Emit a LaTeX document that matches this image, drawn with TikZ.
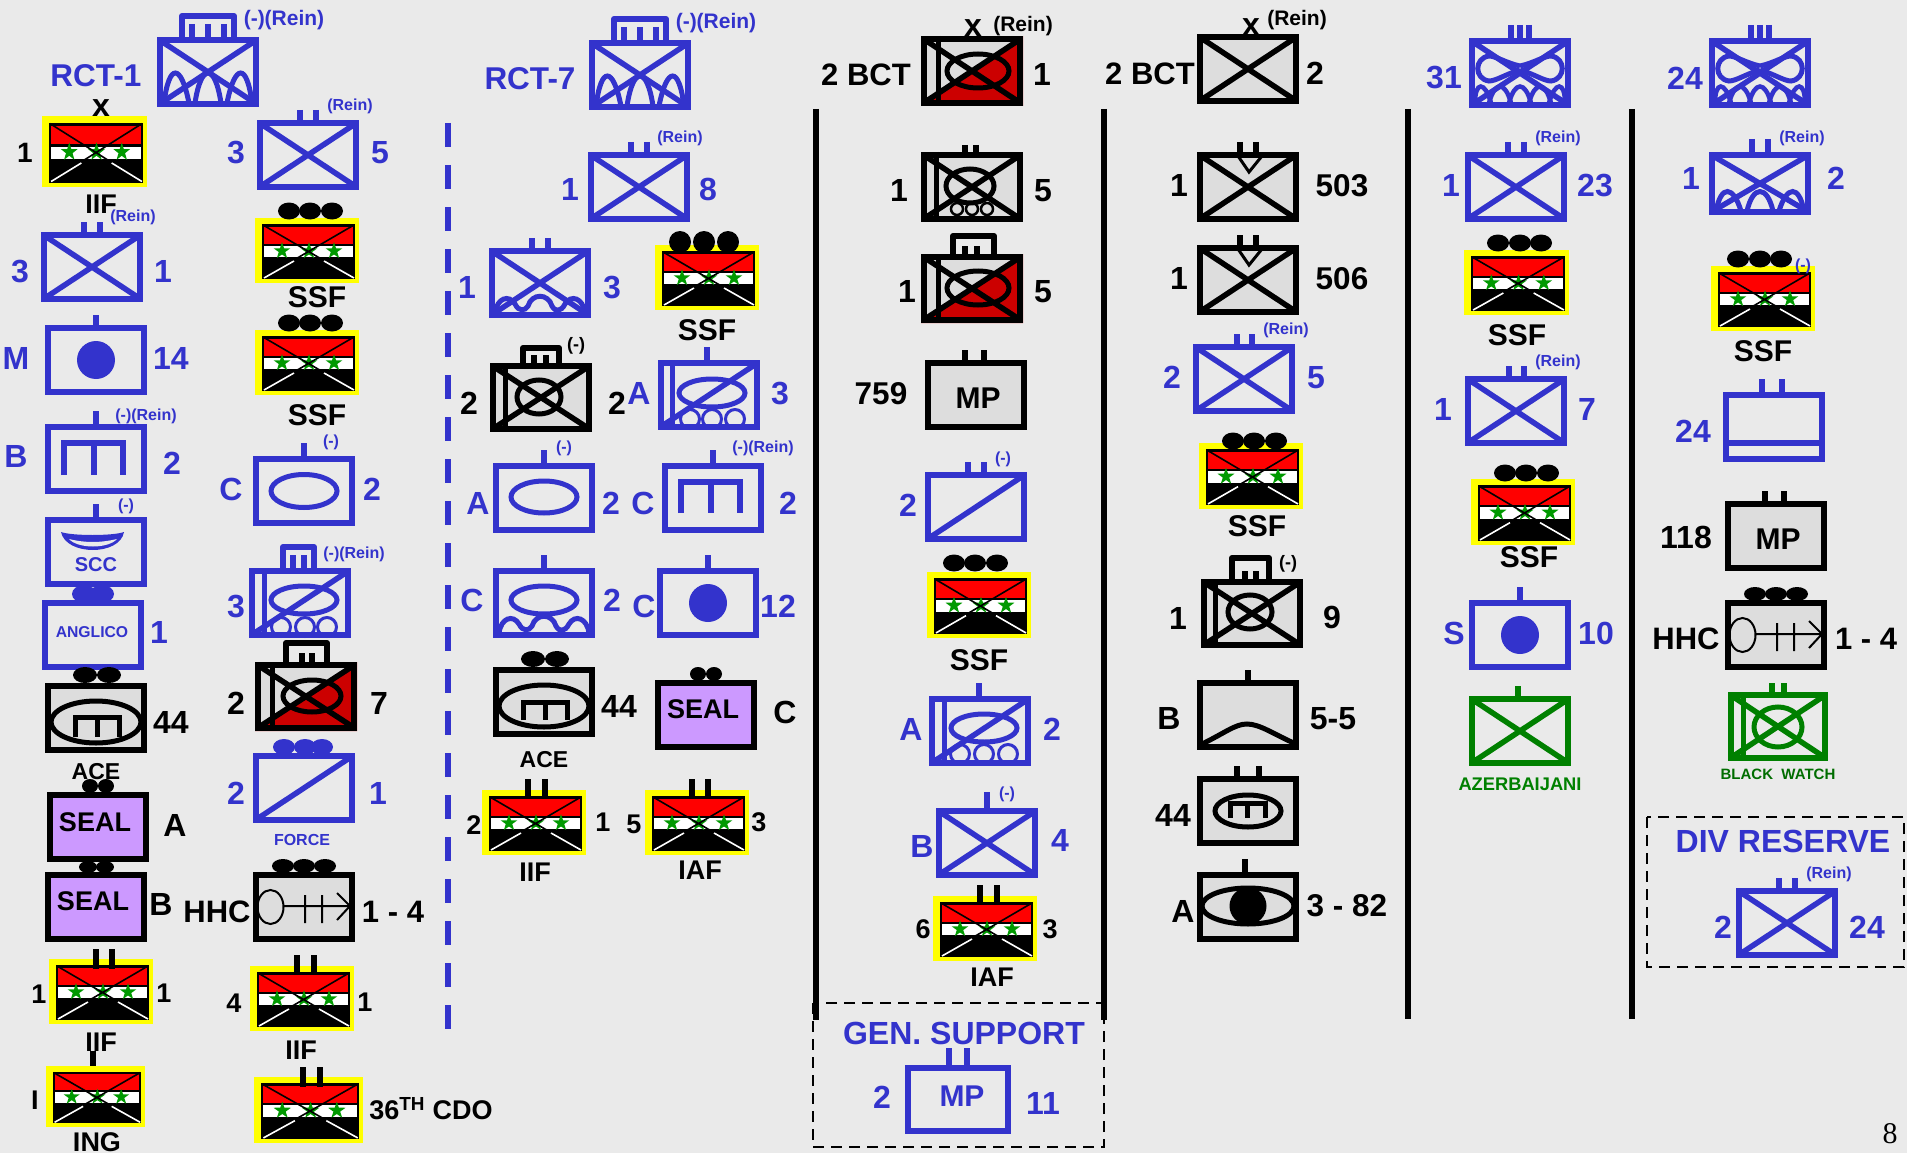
\documentclass[tikz,border=0pt]{standalone}
\usepackage{fontspec}
\setmainfont{Liberation Sans}
\newfontfamily\serifnum{Liberation Serif}
\definecolor{bgc}{HTML}{EAEAEA}
\definecolor{bl}{HTML}{3333CC}
\definecolor{gr}{HTML}{008000}
\definecolor{gy}{HTML}{DDDDDD}
\definecolor{rd}{HTML}{FF0000}
\definecolor{mrd}{HTML}{CC0000}
\definecolor{pu}{HTML}{CC99FF}
\definecolor{ye}{HTML}{FFFF00}
\definecolor{sg}{HTML}{009900}
\newcount\tc
\tikzset{
 lbl/.style={anchor=base,inner sep=0pt,outer sep=0pt},
 frm/.style={draw=sc,line width=6pt,line join=miter},
 ln/.style={draw=sc,line width=5.5pt},
 thin5/.style={draw=sc,line width=5pt},
 tick/.style={draw=sc,line width=6pt},
}
% text: x, y (centre of capitals), colour, size, text
\newcommand\T[5]{\global\advance\tc by 1\relax
 \node[lbl,text=#3,font={\fontsize{#4}{#4}\selectfont\bfseries},name=t\the\tc] at ({#1},{#2+0.358*#4}) {#5};}
% symbol: x y w h line fill body
\newcommand\Sym[7]{\begin{scope}
 \colorlet{sc}{#5}\def\xa{#1}\def\ya{#2}
 \pgfmathsetmacro\xb{#1+#3}\pgfmathsetmacro\yb{#2+#4}
 \fill[#6] (\xa,\ya) rectangle (\xb,\yb);
 #7
 \draw[frm] ({\xa+3},{\ya+3}) rectangle ({\xb-3},{\yb-3});
 \end{scope}}
\newcommand\Tk[2]{\draw[tick] (#1,#2) -- (#1,{\ya+1});}
\newcommand\Xx{\draw[ln] ({\xa+4},{\ya+4}) -- ({\xb-4},{\yb-4}) ({\xa+4},{\yb-4}) -- ({\xb-4},{\ya+4});}
\newcommand\Sl{\draw[ln] ({\xa+4},{\yb-4}) -- ({\xb-4},{\ya+4});}
\newcommand\Brk[3]{\draw[sc,line width=6pt,line join=round] ({#1+3},\ya) -- ({#1+3},{#3+3}) -- ({#2-3},{#3+3}) -- ({#2-3},\ya);}
\newcommand\Ell[4]{\draw[thin5] (#1,#2) ellipse ({#3} and {#4});}
\newcommand\LB[1]{\draw[thin5] (#1,\ya) -- (#1,\yb);}
\newcommand\Eng[5]{\draw[sc,line width=#5pt,line join=miter] (#1,#4) -- (#1,#3) -- (#2,#3) -- (#2,#4) ({(#1+#2)/2},#3) -- ({(#1+#2)/2},#4);}
\newcommand\Wheels[4]{\foreach \q in {#1,#2,#3} \draw[sc,line width=3pt] (\q,#4) circle (9.5);}
\newcommand\Wave{\draw[sc,line width=5pt,shift={(\xa,\ya)}] (6,65) .. controls (8,50) and (20,46) .. (26,56) .. controls (30,64) and (36,63) .. (39,58) .. controls (43,45) and (59,45) .. (63,58) .. controls (66,64) and (72,64) .. (76,56) .. controls (82,46) and (94,50) .. (96,65);}
\newcommand\Mtn[1]{\begin{scope}[shift={(\xa,\yb)}]\draw[sc,line width=5pt]
 (7,-4) .. controls (12,-#1) and (24,-#1) .. (32,-4)
 (38,-4) .. controls (44,-#1) and (58,-#1) .. (64,-4)
 (70,-4) .. controls (78,-#1) and (90,-#1) .. (95,-4);\end{scope}}
\newcommand\Wings{\begin{scope}[shift={(\xa,\ya)}]\draw[sc,line width=5pt]
 (51,28) .. controls (65,25) and (75,18) .. (82,18) .. controls (97,20) and (97,41) .. (82,43) .. controls (75,43) and (65,36) .. (51,32)
 (51,28) .. controls (37,25) and (27,18) .. (20,18) .. controls (5,20) and (5,41) .. (20,43) .. controls (27,43) and (37,36) .. (51,32);
 \foreach \q in {11,31,51,71,91}{\draw[sc,line width=4.5pt] ({max(\q-11,6)},65) .. controls ({\q-5},43) and ({\q+5},43) .. ({min(\q+11,96)},65);}
 \end{scope}}
\newcommand\Hhc{\begin{scope}[shift={(\xa,\ya)}]\draw[black,line width=2pt]
 (17.5,35) ellipse (13 and 17) (30,34) -- (97,34) (52,23) -- (52,51) (69,23) -- (69,51) (84,21) -- (97,34) -- (84,48);\end{scope}}
\newcommand\RedTri{\fill[mrd] (\xb,\ya) -- (\xb,\yb) -- (\xa,\yb) -- cycle;}
\newcommand\Dt[5]{\foreach \q in {#2} \fill[#1] (\q,#3) ellipse ({#4} and {#5});}
\newcommand\Stp[2]{\fill[sg] ([shift={(90:8.8pt)}]#1,#2) -- ([shift={(126:3.4pt)}]#1,#2) -- ([shift={(162:8.8pt)}]#1,#2) -- ([shift={(198:3.4pt)}]#1,#2) -- ([shift={(234:8.8pt)}]#1,#2) -- ([shift={(270:3.4pt)}]#1,#2) -- ([shift={(306:8.8pt)}]#1,#2) -- ([shift={(342:3.4pt)}]#1,#2) -- ([shift={(18:8.8pt)}]#1,#2) -- ([shift={(54:3.4pt)}]#1,#2) -- cycle;}
% flag: x y w h
\newcommand\Flag[4]{\begin{scope}[shift={(#1,#2)},xscale={#3/104},yscale={#4/65}]
 \fill[ye] (0,0) rectangle (104,65);
 \fill[black] (7,6) rectangle (100,61);
 \fill[rd] (9,9) rectangle (98,26);
 \fill[white] (9,28) rectangle (98,39);
 \Stp{27}{33}\Stp{54}{33}\Stp{79}{33}
 \draw[black,line width=1.6pt] (8,7) -- (99,60) (99,7) -- (8,60);
 \draw[white,line width=1.6pt] (9,60) -- (39,43) (99,60) -- (69,43);
 \end{scope}}
\newcommand\FT[2]{\draw[black,line width=6pt] (#1,#2) -- (#1,{#2+20});}
\begin{document}
\begin{tikzpicture}[x=1pt,y=-1pt]
\useasboundingbox (0,0) rectangle (1907,1153);
\fill[bgc] (0,0) rectangle (1907,1153);
%% separators
\draw[bl,line width=6pt,dash pattern=on 24pt off 18pt] (448,123) -- (448,1029);
\draw[black,line width=6pt] (816,109) -- (816,1020);
\draw[black,line width=6pt] (1104,109) -- (1104,1020);
\draw[black,line width=6pt] (1408,109) -- (1408,1019);
\draw[black,line width=6pt] (1632,109) -- (1632,1019);
\draw[black,line width=2.5pt,dash pattern=on 11pt off 7pt] (813,1003) rectangle (1104,1147);
\draw[black,line width=2.5pt,dash pattern=on 11pt off 7pt] (1647,817) rectangle (1904,967);
%% ---------- column 1
\Sym{157}{37}{102}{70}{bl}{bgc}{\Brk{179}{237}{13}\Tk{192}{24}\Tk{208}{24}\Tk{224}{24}\Xx\Mtn{44}}
\T{284}{18}{bl}{21}{(-)(Rein)}
\T{96}{75}{bl}{31.5}{RCT-1}
\T{101}{105}{black}{32}{x}
\Flag{42}{116}{105}{71}
\T{25}{152}{black}{28}{1}
\T{101}{204}{black}{27}{IIF}
\Sym{41}{232}{102}{70}{bl}{bgc}{\Tk{84}{222}\Tk{100}{222}\Xx}
\T{133}{216}{bl}{16}{(Rein)}
\T{20}{271}{bl}{32}{3}\T{163}{271}{bl}{32}{1}
\Sym{45}{325}{102}{70}{bl}{bgc}{\Tk{96}{315}\fill[bl] (96,360) circle (19);}
\T{16}{358}{bl}{32}{M}\T{171}{358}{bl}{32}{14}
\Sym{45}{424}{102}{70}{bl}{bgc}{\Tk{96}{411}\Eng{64}{123}{443}{475}{6}}
\T{146}{415}{bl}{16}{(-)(Rein)}
\T{16}{456}{bl}{32}{B}\T{172}{463}{bl}{32}{2}
\Sym{45}{517}{102}{70}{bl}{bgc}{\Tk{96}{504}
 \fill[bl] (61,532) .. controls (72,536) and (113,536) .. (124,532) .. controls (120,556) and (66,556) .. (61,532) -- cycle;
 \fill[bgc] (69,539) .. controls (85,543) and (100,543) .. (117,539) .. controls (108,549) and (78,549) .. (69,539) -- cycle;}
\T{126}{505}{bl}{16}{(-)}
\T{96}{564}{bl}{20}{SCC}
\Dt{bl}{84,102}{594}{12}{9}
\Sym{42}{600}{102}{70}{bl}{bgc}{}
\T{92}{632}{bl}{15.7}{ANGLICO}
\T{159}{632}{bl}{32}{1}
\Dt{black}{85,109}{675}{12}{8}
\Sym{45}{683}{102}{70}{black}{gy}{\Ell{96}{722}{45}{21}\Eng{75}{119}{717}{737}{5}}
\T{171}{722}{black}{32}{44}
\T{96}{771}{black}{23}{ACE}
\Dt{black}{90,106}{786}{8}{7}
\Sym{47}{792}{102}{70}{black}{pu}{}
\T{95}{822}{black}{27}{SEAL}
\T{175}{825}{black}{32}{A}
\Dt{black}{88,105}{867}{9}{6}
\Sym{45}{872}{102}{70}{black}{pu}{}
\T{93}{901}{black}{27}{SEAL}
\T{161}{904}{black}{32}{B}
\Flag{49}{959}{104}{65}\FT{96}{949}\FT{112}{949}
\T{39}{994}{black}{27}{1}\T{164}{993}{black}{27}{1}
\T{101}{1042}{black}{27}{IIF}
\FT{93}{1051}
\Flag{46}{1066}{99}{61}
\T{35}{1100}{black}{27}{I}
\T{97}{1142}{black}{27}{ING}
%% ---------- column 2
\Sym{257}{120}{102}{70}{bl}{bgc}{\Tk{300}{110}\Tk{316}{110}\Xx}
\T{350}{105}{bl}{16}{(Rein)}
\T{236}{152}{bl}{32}{3}\T{380}{152}{bl}{32}{5}
\Flag{255}{218}{104}{65}\Dt{black}{289,310,332}{211}{11}{8.5}
\T{317}{297}{black}{30}{SSF}
\Flag{255}{330}{104}{65}\Dt{black}{289,310,332}{323}{11}{8.5}
\T{317}{415}{black}{30}{SSF}
\Sym{253}{456}{102}{70}{bl}{bgc}{\Tk{304}{443}\Ell{304}{491}{33}{16.5}}
\T{331}{441}{bl}{16}{(-)}
\T{231}{489}{bl}{32}{C}\T{372}{489}{bl}{32}{2}
\Sym{249}{568}{102}{70}{bl}{bgc}{\Brk{280}{317}{544}\Tk{293}{555}\Tk{304}{555}\LB{264}\Ell{304}{600}{33}{14}\Wheels{281}{305}{327}{627}\Sl}
\T{354}{553}{bl}{16}{(-)(Rein)}
\T{236}{606}{bl}{32}{3}
\Sym{255}{662}{102}{69}{black}{gy}{\RedTri\Brk{283}{330}{640}\Tk{302}{653}\Tk{312}{653}\LB{272}\Ell{312}{696}{29}{16}\Xx}
\T{236}{703}{black}{32}{2}\T{379}{703}{black}{32}{7}
\Dt{bl}{284,305,322}{747}{11}{8}
\Sym{253}{753}{102}{70}{bl}{bgc}{\Sl}
\T{236}{793}{bl}{32}{2}\T{378}{793}{bl}{32}{1}
\T{302}{840}{bl}{16}{FORCE}
\Dt{black}{283,304,325}{866}{11}{7}
\Sym{253}{872}{102}{70}{black}{gy}{\Hhc}
\T{217}{911}{black}{31}{HHC}\T{393}{911}{black}{31}{1 - 4}
\Flag{250}{966}{104}{65}\FT{297}{955}\FT{314}{955}
\T{234}{1003}{black}{27}{4}\T{365}{1002}{black}{27}{1}
\T{301}{1050}{black}{27}{IIF}
\Flag{254}{1077}{109}{66}\FT{303}{1067}\FT{320}{1067}
\T{431}{1110}{black}{27}{36\textsuperscript{TH} CDO}
%% ---------- column 3
\T{530}{78}{bl}{31.5}{RCT-7}
\Sym{589}{40}{102}{70}{bl}{bgc}{\Brk{611}{669}{16}\Tk{624}{27}\Tk{640}{27}\Tk{656}{27}\Xx\Mtn{44}}
\T{716}{21}{bl}{21}{(-)(Rein)}
\Sym{588}{152}{102}{70}{bl}{bgc}{\Tk{631}{142}\Tk{647}{142}\Xx}
\T{680}{137}{bl}{16}{(Rein)}
\T{570}{189}{bl}{32}{1}\T{708}{189}{bl}{32}{8}
\Sym{489}{248}{102}{70}{bl}{bgc}{\Tk{532}{238}\Tk{548}{238}\Xx\Wave}
\T{467}{287}{bl}{32}{1}\T{612}{287}{bl}{32}{3}
\Flag{655}{245}{104}{65}\Dt{black}{680,704,728}{242}{11}{11}
\T{707}{330}{black}{30}{SSF}
\Sym{490}{363}{102}{69}{black}{gy}{\Brk{520}{562}{345}\Tk{534}{355}\Tk{546}{355}\LB{505}\Ell{539}{397}{22}{17}\Xx}
\T{576}{344}{black}{18}{(-)}
\T{469}{403}{black}{32}{2}\T{617}{403}{black}{32}{2}
\Sym{658}{360}{102}{70}{bl}{bgc}{\Tk{707}{347}\LB{672}\Ell{712}{393}{33}{14}\Wheels{690}{712}{735}{419}\Sl}
\T{639}{393}{bl}{32}{A}\T{780}{393}{bl}{32}{3}
\Sym{493}{463}{102}{70}{bl}{bgc}{\Tk{544}{450}\Ell{544}{497}{33}{16}}
\T{564}{447}{bl}{16}{(-)}
\T{478}{503}{bl}{32}{A}\T{611}{503}{bl}{32}{2}
\Sym{662}{463}{102}{70}{bl}{bgc}{\Tk{713}{450}\Eng{681}{740}{482}{513}{6}}
\T{763}{447}{bl}{16}{(-)(Rein)}
\T{643}{503}{bl}{32}{C}\T{788}{503}{bl}{32}{2}
\Sym{493}{568}{102}{70}{bl}{bgc}{\Tk{544}{555}\Ell{544}{600}{33}{14}\Wave}
\T{472}{600}{bl}{32}{C}\T{612}{600}{bl}{32}{2}
\Sym{657}{568}{102}{70}{bl}{bgc}{\Tk{708}{555}\fill[bl] (708,603) circle (19);}
\T{644}{606}{bl}{32}{C}\T{778}{606}{bl}{32}{12}
\Dt{black}{533,557}{659}{12}{8}
\Sym{493}{667}{102}{70}{black}{gy}{\Ell{544}{706}{45}{21}\Eng{523}{567}{702}{720}{5}}
\T{619}{706}{black}{32}{44}
\T{544}{759}{black}{23}{ACE}
\Dt{black}{698,714}{674}{8}{7}
\Sym{655}{680}{102}{70}{black}{pu}{}
\T{703}{709}{black}{27}{SEAL}
\T{785}{712}{black}{32}{C}
\Flag{482}{790}{104}{65}\FT{528}{779}\FT{545}{779}
\T{474}{825}{black}{27}{2}\T{603}{822}{black}{27}{1}
\T{535}{872}{black}{27}{IIF}
\Flag{645}{790}{104}{65}\FT{692}{779}\FT{708}{779}
\T{634}{824}{black}{27}{5}\T{759}{822}{black}{27}{3}
\T{700}{870}{black}{27}{IAF}
%% ---------- column 4
\Sym{921}{36}{102}{70}{black}{gy}{\RedTri\LB{938}\Ell{978}{71}{31}{17}\Xx}
\T{973}{25}{black}{32}{x}
\T{1023}{24}{black}{21}{(Rein)}
\T{866}{74}{black}{31}{2 BCT}\T{1042}{74}{black}{32}{1}
\Sym{921}{152}{102}{70}{black}{gy}{\Tk{965}{145}\Tk{976}{145}\LB{936}\Ell{970}{186}{24}{17}\foreach \q in {957,972,987}{\draw[black,line width=2.5pt] (\q,209) circle (6);}\Xx}
\T{899}{190}{black}{32}{1}\T{1043}{190}{black}{32}{5}
\Sym{921}{254}{102}{69}{black}{gy}{\RedTri\Brk{950}{997}{233}\Tk{965}{246}\Tk{977}{246}\LB{938}\Ell{978}{288}{31}{17}\Xx}
\T{907}{291}{black}{32}{1}\T{1043}{291}{black}{32}{5}
\Sym{925}{360}{102}{70}{black}{gy}{\Tk{965}{350}\Tk{984}{350}}
\T{978}{398}{black}{30}{MP}
\T{881}{393}{black}{31.5}{759}
\Sym{925}{472}{102}{70}{bl}{bgc}{\Tk{968}{462}\Tk{984}{462}\Sl}
\T{1003}{458}{bl}{16}{(-)}
\T{908}{505}{bl}{32}{2}
\Flag{927}{572}{104}{66}\Dt{black}{954,975,997}{563}{11}{8.5}
\T{979}{660}{black}{30}{SSF}
\Sym{929}{696}{102}{70}{bl}{bgc}{\Tk{979}{683}\LB{944}\Ell{984}{728}{33}{14}\Wheels{960}{984}{1008}{754}\Sl}
\T{911}{729}{bl}{32}{A}\T{1052}{729}{bl}{32}{2}
\Sym{936}{808}{102}{70}{bl}{bgc}{\Tk{987}{792}\Xx}
\T{1007}{793}{bl}{16}{(-)}
\T{922}{846}{bl}{32}{B}\T{1060}{840}{bl}{32}{4}
\Flag{933}{896}{104}{65}\FT{980}{885}\FT{997}{885}
\T{923}{929}{black}{27}{6}\T{1050}{929}{black}{27}{3}
\T{992}{977}{black}{27}{IAF}
\T{964}{1033}{bl}{32}{GEN. SUPPORT}
\Sym{905}{1065}{106}{69}{bl}{bgc}{\Tk{949}{1048}\Tk{967}{1048}}
\T{962}{1096}{bl}{30}{MP}
\T{882}{1097}{bl}{32}{2}\T{1043}{1103}{bl}{32}{11}
%% ---------- column 5
\Sym{1197}{34}{102}{70}{black}{gy}{\Xx}
\T{1251}{24}{black}{32}{x}
\T{1297}{18}{black}{21}{(Rein)}
\T{1150}{73}{black}{31}{2 BCT}\T{1315}{73}{black}{32}{2}
\Sym{1197}{152}{102}{70}{black}{gy}{\Tk{1240}{142}\Tk{1256}{142}\Xx\draw[black,line width=3pt] (1238,156) -- (1249,172) -- (1262,156);}
\T{1179}{185}{black}{32}{1}\T{1342}{185}{black}{31.5}{503}
\Sym{1197}{245}{102}{70}{black}{gy}{\Tk{1240}{235}\Tk{1256}{235}\Xx\draw[black,line width=3pt] (1238,249) -- (1249,265) -- (1262,249);}
\T{1179}{278}{black}{32}{1}\T{1342}{278}{black}{31.5}{506}
\Sym{1193}{344}{102}{70}{bl}{bgc}{\Tk{1237}{334}\Tk{1252}{334}\Xx}
\T{1286}{329}{bl}{16}{(Rein)}
\T{1172}{377}{bl}{32}{2}\T{1316}{377}{bl}{32}{5}
\Flag{1199}{443}{104}{66}\Dt{black}{1233,1254,1276}{441}{11}{8.5}
\T{1257}{526}{black}{30}{SSF}
\Sym{1201}{579}{102}{69}{black}{gy}{\Brk{1229}{1272}{555}\Tk{1245}{571}\Tk{1256}{571}\LB{1215}\Ell{1250}{612}{22}{17}\Xx}
\T{1288}{562}{black}{18}{(-)}
\T{1178}{618}{black}{32}{1}\T{1332}{617}{black}{32}{9}
\Sym{1197}{680}{102}{70}{black}{gy}{\Tk{1248}{670}\draw[black,line width=5pt] (1200,745) .. controls (1225,733) and (1235,724) .. (1247,724) .. controls (1260,724) and (1275,735) .. (1296,744);}
\T{1169}{718}{black}{32}{B}\T{1333}{718}{black}{32}{5-5}
\Sym{1197}{776}{102}{70}{black}{gy}{\Tk{1237}{766}\Tk{1259}{766}\Ell{1248}{811}{33}{16}\Eng{1230}{1265}{803}{818}{5}}
\T{1173}{815}{black}{32}{44}
\Sym{1197}{872}{102}{70}{black}{gy}{\Tk{1245}{859}\Ell{1248}{906}{46}{18}\fill[black] (1248,906) circle (18.5);}
\T{1183}{911}{black}{32}{A}\T{1347}{905}{black}{31.5}{3 - 82}
%% ---------- column 6
\Sym{1469}{38}{102}{70}{bl}{bgc}{\Tk{1511}{25}\Tk{1520}{25}\Tk{1529}{25}\Xx\Wings}
\T{1444}{77}{bl}{32}{31}
\Sym{1465}{152}{102}{70}{bl}{bgc}{\Tk{1508}{142}\Tk{1524}{142}\Xx}
\T{1558}{137}{bl}{16}{(Rein)}
\T{1451}{185}{bl}{32}{1}\T{1595}{185}{bl}{32}{23}
\Flag{1464}{250}{105}{65}\Dt{black}{1498,1520,1541}{243}{11}{8.5}
\T{1517}{335}{black}{30}{SSF}
\Sym{1465}{376}{102}{70}{bl}{bgc}{\Tk{1509}{366}\Tk{1524}{366}\Xx}
\T{1558}{361}{bl}{16}{(Rein)}
\T{1443}{409}{bl}{32}{1}\T{1587}{409}{bl}{32}{7}
\Flag{1471}{479}{104}{66}\Dt{black}{1505,1526,1548}{473}{11}{8.5}
\T{1529}{557}{black}{30}{SSF}
\Sym{1469}{600}{102}{70}{bl}{bgc}{\Tk{1520}{587}\fill[bl] (1520,635) circle (19);}
\T{1454}{633}{bl}{32}{S}\T{1596}{633}{bl}{32}{10}
\Sym{1469}{696}{102}{70}{gr}{bgc}{\Tk{1518}{686}\Xx}
\T{1520}{784}{gr}{18.3}{AZERBAIJANI}
%% ---------- column 7
\Sym{1709}{38}{102}{70}{bl}{bgc}{\Tk{1751}{25}\Tk{1760}{25}\Tk{1769}{25}\Xx\Wings}
\T{1685}{78}{bl}{32}{24}
\Sym{1709}{152}{102}{63}{bl}{bgc}{\Tk{1752}{139}\Tk{1768}{139}\Xx\Mtn{30}}
\T{1802}{137}{bl}{16}{(Rein)}
\T{1691}{178}{bl}{32}{1}\T{1836}{178}{bl}{32}{2}
\Flag{1711}{266}{104}{65}\Dt{black}{1738,1760,1781}{259}{11}{8.5}
\T{1803}{265}{bl}{16}{(-)}
\T{1763}{351}{black}{30}{SSF}
\Sym{1723}{392}{102}{70}{bl}{bgc}{\Tk{1762}{379}\Tk{1782}{379}\draw[frm] (1723,443) -- (1825,443);}
\T{1693}{431}{bl}{32}{24}
\Sym{1725}{501}{102}{70}{black}{gy}{\Tk{1765}{491}\Tk{1784}{491}}
\T{1778}{539}{black}{30}{MP}
\T{1686}{537}{black}{32}{118}
\Dt{black}{1755,1776,1797}{594}{11}{7}
\Sym{1725}{600}{102}{70}{black}{gy}{\Hhc}
\T{1686}{638}{black}{31}{HHC}\T{1866}{638}{black}{31}{1 - 4}
\Sym{1728}{692}{100}{69}{gr}{bgc}{\Tk{1772}{683}\Tk{1784}{683}\LB{1743}\Ell{1778}{727}{24}{20}\Xx}
\T{1778}{774}{gr!85!black}{15}{BLACK\ \ WATCH}
\T{1783}{841}{bl}{32}{DIV RESERVE}
\Sym{1736}{888}{102}{70}{bl}{bgc}{\Tk{1779}{878}\Tk{1795}{878}\Xx}
\T{1829}{873}{bl}{16}{(Rein)}
\T{1723}{927}{bl}{32}{2}\T{1867}{927}{bl}{32}{24}
%% page number
\node[lbl,text=black,font={\fontsize{30}{30}\selectfont\serifnum},name=pagenum] at (1890,1143) {8};
\end{tikzpicture}
\end{document}
